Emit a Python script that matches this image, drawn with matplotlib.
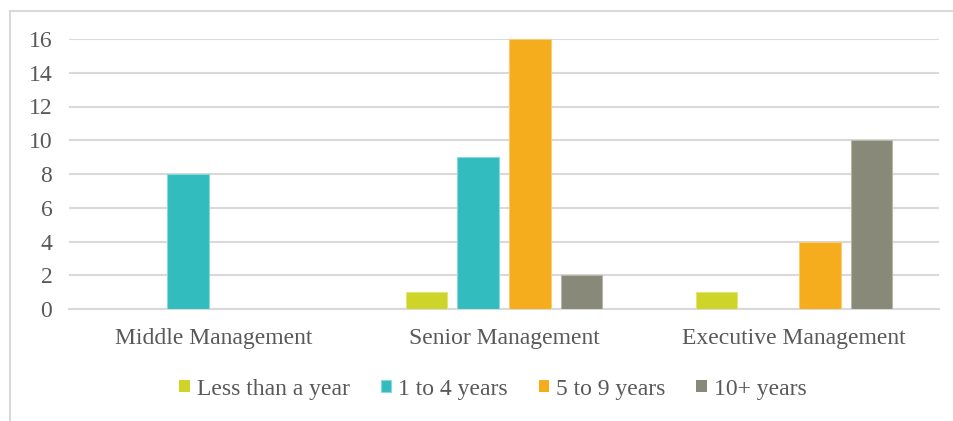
import matplotlib
matplotlib.use("Agg")
import matplotlib.pyplot as plt
from matplotlib.patches import Rectangle
import numpy as np

categories = ["Middle Management", "Senior Management", "Executive Management"]
series_names = ["Less than a year", "1 to 4 years", "5 to 9 years", "10+ years"]
less_than_year = [0, 1, 1]
one_to_four = [8, 9, 0]
five_to_nine = [0, 16, 4]
ten_plus = [0, 2, 10]
yticks = [0, 2, 4, 6, 8, 10, 12, 14, 16]

colors = ["#CED428", "#33BCBD", "#F5AD1E", "#888978"]
edges = ["#E0E47A", "#8AD8D8", "#F8CB75", "#B5B6A8"]

plt.rcParams["font.family"] = ["Liberation Serif", "DejaVu Serif"]
text_color = "#595959"

fig = plt.figure(figsize=(9.54, 4.21), dpi=100)
fig.patch.set_facecolor("white")
ax = fig.add_axes([69/954, 1-309/421, (939-69)/954, (309-39)/421])

x = np.arange(len(categories))
pitch = 0.1793
width = 0.1414
data = [less_than_year, one_to_four, five_to_nine, ten_plus]
for i, (vals, name) in enumerate(zip(data, series_names)):
    lw = [0.8 if v > 0 else 0 for v in vals]
    ax.bar(x + (i - 1.5) * pitch, vals, width, color=colors[i], edgecolor=edges[i],
           linewidth=lw, label=name, zorder=3)

ax.set_xlim(-0.5, 2.5)
ax.set_ylim(0, 16)
ax.set_yticks(yticks)
ax.set_xticks(x)
ax.set_xticklabels(categories)
ax.yaxis.grid(True, color="#D9D9D9", linewidth=1.5, zorder=0)
ax.set_axisbelow(True)
for s in ["top", "right", "left"]:
    ax.spines[s].set_visible(False)
ax.spines["bottom"].set_color("#D9D9D9")
ax.spines["bottom"].set_linewidth(1.5)
ax.tick_params(axis="y", length=0, pad=12, labelsize=17, labelcolor=text_color)
ax.tick_params(axis="x", length=0, pad=14, labelsize=17, labelcolor=text_color)

handles, labels = ax.get_legend_handles_labels()
leg = fig.legend(handles, labels, loc="center", bbox_to_anchor=(493/954, 1-389/421),
                 ncol=4, frameon=False, fontsize=17, handlelength=0.45, handleheight=0.45,
                 handletextpad=0.3, columnspacing=1.3, borderpad=0)
for t in leg.get_texts():
    t.set_color(text_color)

fig.add_artist(Rectangle((10/954, -0.05), 1.0, 1 - 11/421 + 0.05, transform=fig.transFigure,
                         fill=False, edgecolor="#D9D9D9", linewidth=1.5))

fig.savefig("out.png", dpi=100)
